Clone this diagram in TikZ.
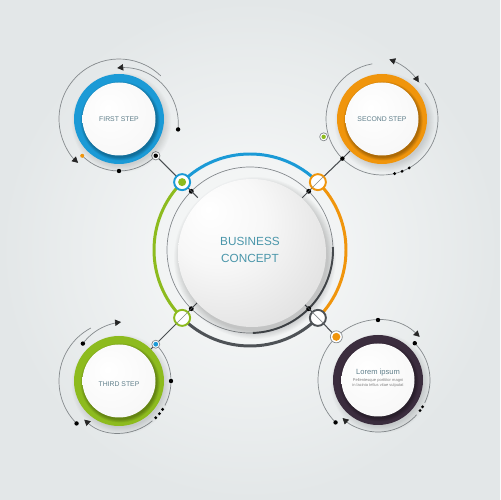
\documentclass[tikz,border=0pt]{standalone}
\usepackage{fontspec}
\setmainfont{Liberation Sans}
\usetikzlibrary{arrows.meta,calc}

\definecolor{bgedge}{HTML}{E3E7E8}
\definecolor{bgmid}{HTML}{FAFBFB}
\definecolor{bluering}{HTML}{1B9AD6}
\definecolor{orangering}{HTML}{F0950C}
\definecolor{greenring}{HTML}{8DBB1E}
\definecolor{darkring}{HTML}{3B2D3E}
\definecolor{darkarc}{HTML}{4E5256}
\definecolor{thinline}{HTML}{858A8D}
\definecolor{linkgray}{HTML}{4A4E52}
\definecolor{conceptteal}{HTML}{4A96AA}
\definecolor{stepgray}{HTML}{5F7E8A}

\pgfdeclareradialshading{spherefill}{\pgfpoint{-15bp}{15bp}}{color(0bp)=(white); color(16bp)=(white!97!black); color(38bp)=(white!88!black); color(56bp)=(white!76!black); color(72bp)=(white!66!black)}
\pgfdeclareradialshading{discfill}{\pgfpoint{-8bp}{8bp}}{color(0bp)=(white); color(32bp)=(white!97!black); color(52bp)=(white!90!black); color(62bp)=(white!86!black)}

\tikzset{
  arcline/.style={draw=thinline, line width=0.4pt},
  link/.style={draw=linkgray, line width=0.6pt},
  band/.style={line width=1.7pt},
  headend/.style={-{Triangle[length=3.4pt,width=3.6pt,color=black!85]}},
  headboth/.style={{Triangle[length=3.4pt,width=3.6pt,color=black!85]}-{Triangle[length=3.4pt,width=3.6pt,color=black!85]}},
  steplabel/.style={font=\fontsize{3.9}{4.5}\selectfont, text=stepgray, inner sep=0pt},
}

\begin{document}
\begin{tikzpicture}[x=0.02cm, y=0.02cm]
	\useasboundingbox (0,0) rectangle (500,500);
	\shade[inner color=bgmid, outer color=bgedge] (0,0) rectangle (500,500);
	\coordinate (O) at (250,250);
	\coordinate (S) at (252,247);
	\coordinate (A) at (119,381);
	\coordinate (B) at (382,381);
	\coordinate (C) at (119,119);
	\coordinate (D) at (378,120);
	\coordinate (OA) at ($(O)+(135:96)$);
	\coordinate (OB) at ($(O)+(45:96)$);
	\coordinate (OC) at ($(O)+(225:96)$);
	\coordinate (OD) at ($(O)+(315:96)$);
	\coordinate (IA) at ($(O)+(135:74)$);
	\coordinate (IB) at ($(O)+(45:74)$);
	\coordinate (IC) at ($(O)+(225:74)$);
	\coordinate (ID) at ($(O)+(315:74)$);
	\coordinate (PA) at ($(A)+(315:52)$);
	\coordinate (PB) at ($(B)+(225:56)$);
	\coordinate (PC) at ($(C)+(45:52)$);
	\coordinate (PD) at ($(D)+(134:60)$);
	\coordinate (EB) at ($(B)+(225:45)$);
	\coordinate (EC) at ($(C)+(45:45)$);
	% center
	\draw[arcline] (O) circle (83);
	\draw[darkarc, line width=1.1pt] ($(O)+(2:83)$) arc[start angle=2, end angle=-88, radius=83];
	\draw[band, bluering] ($(O)+(45:96)$) arc[start angle=45, end angle=135, radius=96];
	\draw[band, greenring] ($(O)+(135:96)$) arc[start angle=135, end angle=225, radius=96];
	\draw[band, darkarc] ($(O)+(225:96)$) arc[start angle=225, end angle=315, radius=96];
	\draw[band, orangering] ($(O)+(315:96)$) arc[start angle=315, end angle=405, radius=96];
	\foreach \a in {45,135,225,315}
		\fill ($(O)+(\a:83)$) circle (2.4);
	\draw[link] (PA) -- (OA) -- (IA);
	\draw[link] (EB) -- (PB) -- (OB) -- (IB);
	\draw[link] (EC) -- (PC) -- (OC) -- (IC);
	\draw[link] (PD) -- (OD) -- (ID);
	\foreach \i in {1,...,10}
		\fill[black, opacity=0.018] ($(S)+(3,-5)$) circle ({72+\i*0.9});
	\shade[shading=spherefill] (S) circle (74);
	\draw[bluering, line width=1.1pt, fill=white] (OA) circle (8);
	\fill[greenring] (OA) circle (4);
	\draw[orangering, line width=1.1pt, fill=white] (OB) circle (8);
	\draw[greenring, line width=1.1pt, fill=white] (OC) circle (8);
	\draw[darkarc, line width=1.1pt, fill=white] (OD) circle (8);
	\draw[arcline] ($(O)!0.92!(OB)$) -- ($(O)!1.08!(OB)$);
	\draw[arcline] ($(O)!0.92!(OC)$) -- ($(O)!1.08!(OC)$);
	\draw[arcline] ($(O)!0.92!(OD)$) -- ($(O)!1.08!(OD)$);
	\node[font=\fontsize{6.7}{9.4}\selectfont, text=conceptteal, align=center] (T) at (O) {BUSINESS\\CONCEPT};
	% first step
	\draw[arcline, headend] ($(A)+(46:60)$) arc[start angle=46, end angle=227, radius=60];
	\draw[arcline, headend, shift={(A)}] plot[domain=-10:92, samples=30, smooth] (\x:{60-9*(\x+10)/102});
	\fill ($(A)+(-10:60)$) circle (2.2);
	\draw[arcline] ($(A)+(225:52)$) arc[start angle=225, end angle=315, radius=52];
	\fill[orangering] ($(A)+(225:52)$) circle (2);
	\fill ($(A)+(270:52)$) circle (2.2);
	\draw[arcline, fill=white] (PA) circle (4.2);
	\fill (PA) circle (2.2);
	% second step
	\draw[arcline] ($(B)+(100:56)$) arc[start angle=100, end angle=400, radius=56];
	\draw[arcline, headboth, shift={(B)}] plot[domain=83:45, samples=30, smooth] (\x:{60-8*(83-\x)/38});
	\foreach \a in {283,291,299}
		\fill ($(B)+(\a:56)$) circle (1.6);
	\draw[arcline, fill=white] ($(B)+(197:61)$) circle (4);
	\fill[greenring] ($(B)+(197:61)$) circle (2.2);
	\fill (PB) circle (2.2);
	% third step
	\draw[arcline, headend, shift={(C)}] plot[domain=134:88, samples=30, smooth] (\x:{52+7*(134-\x)/46});
	\fill ($(C)+(134:52)$) circle (2.2);
	\draw[arcline] ($(C)+(118:60)$) arc[start angle=118, end angle=225, radius=60];
	\fill ($(C)+(225:60)$) circle (2.2);
	\draw[arcline] ($(C)+(45:52)$) arc[start angle=45, end angle=-28, radius=52];
	\fill ($(C)+(0:52)$) circle (2.2);
	\foreach \a in {-33,-39,-45}
		\fill ($(C)+(\a:52)$) circle (1.6);
	\draw[arcline, headend] ($(C)+(-50:52)$) arc[start angle=-50, end angle=-132, radius=52];
	\draw[arcline, fill=white] (PC) circle (4);
	\fill[bluering] (PC) circle (2.4);
	% fourth step
	\draw[arcline, headend] ($(D)+(134:60)$) arc[start angle=134, end angle=46, radius=60];
	\fill ($(D)+(90:60)$) circle (2.2);
	\draw[arcline] ($(D)+(134:60)$) arc[start angle=134, end angle=225, radius=60];
	\fill ($(D)+(225:60)$) circle (2.2);
	\draw[arcline] ($(D)+(45:52)$) arc[start angle=45, end angle=-26, radius=52];
	\fill ($(D)+(45:52)$) circle (2.2);
	\foreach \a in {-31,-36}
		\fill ($(D)+(\a:52)$) circle (1.6);
	\draw[arcline, headend] ($(D)+(-42:52)$) arc[start angle=-42, end angle=-133, radius=52];
	\draw[arcline, fill=white] (PD) circle (6);
	\fill[orangering] (PD) circle (4);
	% rings
	\foreach \p/\c in {A/bluering,B/orangering,C/greenring,D/darkring}{
		\foreach \i in {1,...,8}
			\fill[black, opacity=0.015] ($(\p)+(2.5,-3.5)$) circle ({42+\i});
		\fill[\c] (\p) circle (45);
		\foreach \i in {1,...,6}
			\fill[black, opacity=0.05] ($(\p)+(1.2,-2)$) circle ({36+\i*0.6});
		\shade[shading=discfill] (\p) circle (36.5);
	}
	\node[steplabel] (TA) at (A) {FIRST STEP};
	\node[steplabel] (TB) at (B) {SECOND STEP};
	\node[steplabel] (TC) at ($(C)+(0,-3)$) {THIRD STEP};
	\node[steplabel, font=\fontsize{4.3}{5}\selectfont] (TD) at ($(D)+(0,7)$) {Lorem ipsum};
	\node[font=\fontsize{2.3}{2.9}\selectfont, text=gray, align=center, inner sep=0pt] (TE) at ($(D)+(0,-3)$) {Pellentesque porttitor magni\\in lacinia tellus vitae vulputat};
\end{tikzpicture}
\end{document}
